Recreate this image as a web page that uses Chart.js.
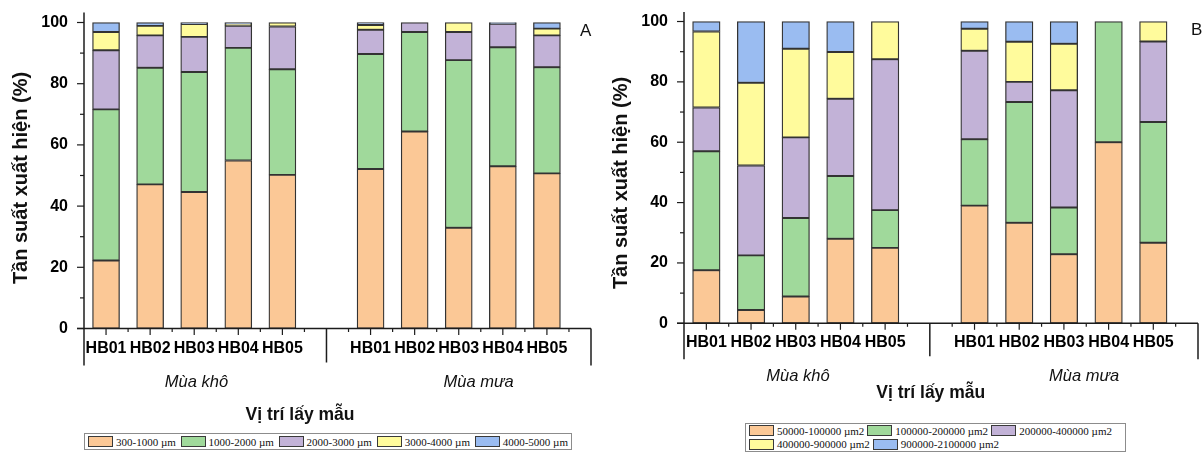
<!DOCTYPE html>
<html>
<head>
<meta charset="utf-8">
<script src="https://cdn.jsdelivr.net/npm/chart.js@4.4.1/dist/chart.umd.min.js"></script>
<style>
  html, body { margin: 0; padding: 0; background: #fff; }
  #wrap { position: relative; width: 1203px; height: 452px; overflow: hidden; }
  canvas { position: absolute; top: 0; }
  #chartA { left: 0; }
  #chartB { left: 600px; }
  .legend {
    position: absolute; box-sizing: border-box; border: 1px solid #8c8c8c; background: #fff;
    font-family: 'Liberation Serif', 'Times New Roman', serif; font-size: 11px; color: #111;
    display: flex; flex-direction: column; justify-content: center; padding: 0 3px;
  }
  .legend .row { display: flex; align-items: center; white-space: nowrap; height: 13.5px; column-gap: 3px; }
  .legend .item { display: flex; align-items: center; white-space: nowrap; }
  .legend .sw { width: 25px; height: 11px; box-sizing: border-box; border: 1.5px solid #3a3a3a; margin-right: 3px; }
  #legendA { left: 84px; top: 433px; width: 488px; height: 17px; }
  #legendA .row { justify-content: space-between; }
  #legendB { left: 745px; top: 423px; width: 381px; height: 29px; }
</style>
</head>
<body>
<div id="wrap">
  <canvas id="chartA" width="600" height="452"></canvas>
  <canvas id="chartB" width="603" height="452"></canvas>
  <div id="legendA" class="legend"></div>
  <div id="legendB" class="legend"></div>
</div>
<script>
// Sampling sites and seasons
const sites = ['HB01', 'HB02', 'HB03', 'HB04', 'HB05'];
const seasons = ['Mùa khô', 'Mùa mưa'];
const yTickValues = [0, 20, 40, 60, 80, 100];
const yTitle = 'Tần suất xuất hiện (%)';
const xTitle = 'Vị trí lấy mẫu';

// Panel A – length classes (%); first five values: dry season HB01–HB05, last five: rainy season
const lengthClasses = ['300-1000 µm', '1000-2000 µm', '2000-3000 µm', '3000-4000 µm', '4000-5000 µm'];
const len300_1000   = [22.2, 47.1, 44.6, 54.9, 50.2, 52.1, 64.4, 32.9, 53.0, 50.7];
const len1000_2000  = [49.4, 38.1, 39.2, 36.8, 34.5, 37.6, 32.5, 54.8, 38.9, 34.7];
const len2000_3000  = [19.3, 10.6, 11.5,  7.2, 14.0,  7.9,  3.1,  9.2,  7.7, 10.4];
const len3000_4000  = [ 6.0,  3.1,  4.2,  0.6,  1.3,  1.6,  0.0,  3.1,  0.0,  2.2];
const len4000_5000  = [ 3.1,  1.1,  0.5,  0.5,  0.0,  0.8,  0.0,  0.0,  0.4,  2.0];

// Panel B – area classes (%); same ordering
const areaClasses = ['50000-100000 µm2', '100000-200000 µm2', '200000-400000 µm2', '400000-900000 µm2', '900000-2100000 µm2'];
const area50k_100k    = [17.6,  4.4,  8.9, 28.0, 25.0, 39.0, 33.3, 22.9, 60.0, 26.7];
const area100k_200k   = [39.4, 18.1, 26.0, 20.8, 12.5, 22.0, 40.0, 15.5, 40.0, 40.0];
const area200k_400k   = [14.5, 29.8, 26.7, 25.6, 50.0, 29.3,  6.7, 38.8,  0.0, 26.7];
const area400k_900k   = [25.2, 27.4, 29.4, 15.5, 12.5,  7.3, 13.3, 15.4,  0.0,  6.6];
const area900k_2100k  = [ 3.3, 20.3,  9.0, 10.1,  0.0,  2.4,  6.7,  7.4,  0.0,  0.0];

const fills = ['#FBC896', '#A0D99B', '#C2B2D7', '#FFFB9C', '#9ABCF1'];

// x positions: dry season at 0..4, an empty slot at 5 (group divider), rainy season at 6..10
const slotOf = j => (j < 5 ? j : j + 1);
const siteSlots = [0, 1, 2, 3, 4, 6, 7, 8, 9, 10];
const siteAt = v => {
  const k = siteSlots.indexOf(v);
  return k < 0 ? '' : sites[k % 5];
};

const axisDeco = {
  id: 'axisDeco',
  afterDatasetsDraw(chart, args, o) {
    const { ctx, chartArea: ca, scales: { x, y } } = chart;
    ctx.save();
    ctx.strokeStyle = '#1c1c1c';
    ctx.lineWidth = 1.5;
    const line = (x1, y1, x2, y2) => { ctx.beginPath(); ctx.moveTo(x1, y1); ctx.lineTo(x2, y2); ctx.stroke(); };
    const b = ca.bottom, l = ca.left;
    const xEnd = x.getPixelForValue(11);
    // axes
    line(l, ca.top, l, b + o.bracket);
    line(l - 7, b, xEnd, b);
    // y ticks: major every 20, minor every 10
    ctx.lineWidth = 1.2;
    for (let v = 0; v <= 100; v += 10) {
      const py = y.getPixelForValue(v);
      line(l - (v % 20 === 0 ? 7 : 4), py, l, py);
    }
    // x ticks: major under each site, minor halfway between
    for (let v = 0; v <= 10.5; v += 0.5) {
      if (v === 5) continue;
      const px = x.getPixelForValue(v);
      line(px, b, px, b + (Number.isInteger(v) ? 6.5 : 3.5));
    }
    // group dividers
    ctx.lineWidth = 1.5;
    line(x.getPixelForValue(5), b, x.getPixelForValue(5), b + o.bracket - 3);
    line(xEnd, b, xEnd, b + o.bracket);
    // season labels
    ctx.fillStyle = '#111';
    ctx.textAlign = 'center';
    ctx.textBaseline = 'middle';
    ctx.font = 'italic 16.5px "Liberation Sans", Arial, sans-serif';
    ctx.fillText(seasons[0], x.getPixelForValue(2.05), o.seasonY);
    ctx.fillText(seasons[1], x.getPixelForValue(8.45), o.seasonY);
    // x title
    ctx.font = 'bold 17.5px "Liberation Sans", Arial, sans-serif';
    ctx.fillText(xTitle, x.getPixelForValue(o.xTitleAt), o.xTitleY);
    // y title
    ctx.save();
    ctx.translate(o.yTitleX, o.yTitleY);
    ctx.rotate(-Math.PI / 2);
    ctx.font = 'bold 20px "Liberation Sans", Arial, sans-serif';
    ctx.fillText(yTitle, 0, 0);
    ctx.restore();
    // panel letter
    ctx.font = '17px "Liberation Sans", Arial, sans-serif';
    ctx.textAlign = 'left';
    ctx.fillText(o.letter, o.letterX, o.letterY);
    ctx.restore();
  }
};

const tickFont = { family: '"Liberation Sans", Arial, sans-serif', size: 16, weight: 'bold' };

const noPad = s => { s.paddingLeft = 0; s.paddingRight = 0; s.paddingTop = 0; s.paddingBottom = 0; };

function buildChart(id, classes, series, g, deco) {
  return new Chart(document.getElementById(id), {
    type: 'bar',
    data: {
      datasets: series.map((vals, i) => ({
        label: classes[i],
        data: vals.map((v, j) => ({ x: slotOf(j), y: v })),
        backgroundColor: fills[i],
        borderColor: '#333333',
        borderWidth: 1.3,
        borderSkipped: false,
        barThickness: g.bar
      }))
    },
    options: {
      responsive: false,
      animation: false,
      devicePixelRatio: 1,
      layout: { padding: { left: 0, right: g.padRight, top: g.padTop, bottom: 0 } },
      plugins: { legend: { display: false }, tooltip: { enabled: false }, axisDeco: deco },
      scales: {
        x: {
          type: 'linear', stacked: true, min: -0.5, max: 11, offset: false,
          grid: { display: false, drawTicks: false, offset: false }, border: { display: false },
          afterBuildTicks: s => { s.ticks = siteSlots.map(v => ({ value: v })); },
          afterFit: s => { s.height = g.xHeight; noPad(s); },
          ticks: { padding: 10, autoSkip: false, maxRotation: 0, minRotation: 0, color: '#000', font: tickFont, callback: v => siteAt(v) }
        },
        y: {
          stacked: true, min: 0, max: g.yMax,
          grid: { display: false, drawTicks: false }, border: { display: false },
          afterBuildTicks: s => { s.ticks = yTickValues.map(v => ({ value: v })); },
          afterFit: s => { s.width = g.yWidth; noPad(s); },
          ticks: { padding: 16, color: '#000', font: tickFont, callback: v => String(v) }
        }
      }
    },
    plugins: [axisDeco]
  });
}

// HTML legend built from the chart's datasets; rowSizes gives the number of entries per row
function buildLegend(chart, el, rowSizes) {
  const dsList = chart.data.datasets;
  let k = 0;
  rowSizes.forEach(n => {
    const row = document.createElement('div');
    row.className = 'row';
    dsList.slice(k, k + n).forEach(ds => {
      const item = document.createElement('div');
      item.className = 'item';
      const sw = document.createElement('span');
      sw.className = 'sw';
      sw.style.background = ds.backgroundColor;
      const tx = document.createElement('span');
      tx.textContent = ds.label;
      item.appendChild(sw);
      item.appendChild(tx);
      row.appendChild(item);
    });
    el.appendChild(row);
    k += n;
  });
}

const chartA = buildChart('chartA', lengthClasses,
  [len300_1000, len1000_2000, len2000_3000, len3000_4000, len4000_5000],
  { bar: 27, padRight: 9, padTop: 12.4, xHeight: 123.5, yMax: 103.3, yWidth: 84 },
  { bracket: 37, seasonY: 382, xTitleAt: 4.4, xTitleY: 415, yTitleX: 21, yTitleY: 178, letter: 'A', letterX: 580, letterY: 31 });

const chartB = buildChart('chartB', areaClasses,
  [area50k_100k, area100k_200k, area200k_400k, area400k_900k, area900k_2100k],
  { bar: 27.5, padRight: 5, padTop: 12, xHeight: 128.7, yMax: 103.15, yWidth: 84 },
  { bracket: 36, seasonY: 376, xTitleAt: 5.02, xTitleY: 393, yTitleX: 21, yTitleY: 183, letter: 'B', letterX: 591, letterY: 30 });

buildLegend(chartA, document.getElementById('legendA'), [5]);
buildLegend(chartB, document.getElementById('legendB'), [3, 2]);
</script>
</body>
</html>
